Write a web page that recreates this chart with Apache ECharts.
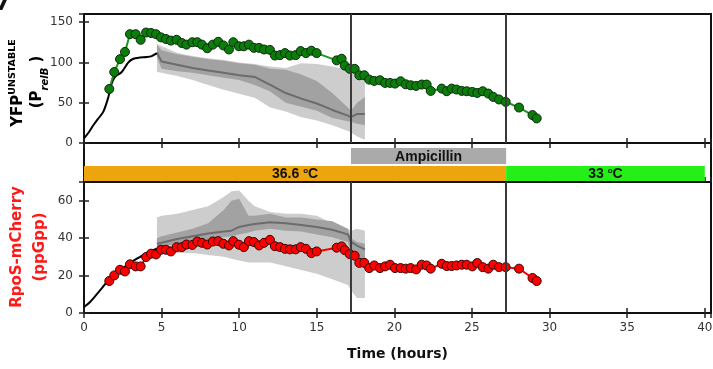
<!DOCTYPE html>
<html><head><meta charset="utf-8">
<script src="https://cdn.jsdelivr.net/npm/echarts@6/dist/echarts.min.js"></script>
<style>html,body{margin:0;padding:0;background:#fff}#c{width:713px;height:369px}</style>
</head><body><div id="c"></div>
<script>
// ---- data ----
const dotTime = [1.63,1.95,2.32,2.64,2.96,3.33,3.65,4.0,4.32,4.64,4.96,5.28,5.6,5.97,6.3,6.6,6.98,7.3,7.6,7.94,8.3,8.65,8.98,9.34,9.62,9.98,10.3,10.63,10.95,11.28,11.6,11.98,12.3,12.63,12.95,13.27,13.64,13.96,14.3,14.65,14.99,16.28,16.6,16.8,17.12,17.44,17.74,18.06,18.38,18.7,19.07,19.4,19.72,20.04,20.4,20.73,21.05,21.4,21.76,22.08,22.34,23.05,23.37,23.69,24.0,24.34,24.66,25.02,25.34,25.69,26.05,26.37,26.74,27.17,28.03,28.9,29.17];
const yfpValues = [67,88,104,113,135,135,128,137,136.5,135,131,129,127,128,124,122,125,125,122,117.5,122,125.5,121,116,125,120,120,122,118,118,116,115.5,108.5,109,111.5,108.5,109,114,111.5,114.5,111.5,102.5,104.5,96,92,92,84,84,78.6,77,77.8,74.5,74.5,73.7,76.5,72.8,71.6,70.8,72.5,72.5,64.6,67.5,64.2,67.5,66.3,64.6,64.2,63.3,62.1,64.2,61.3,57.2,54,51,44,34.6,30.5];
const rposValues = [17.1,20.1,23.1,22.2,26,24.9,24.9,29.9,31.7,31.3,33.8,33.8,32.9,35.2,35.2,36.6,36.4,38.2,37.5,36.6,38.2,38.4,37,36.1,38.4,36.5,35.2,38.4,37.9,36.1,37.5,39.1,35.7,35.2,34.3,34,34,35.2,34.3,32,32.9,34.9,35.6,33.6,31.5,30.6,26.8,26.8,24,25.4,24,24.9,25.8,24,24,23.7,24,23.3,25.8,25.4,23.7,26.3,25.1,25.1,25.4,25.8,25.8,24.9,26.7,24.5,23.7,25.8,24.5,24.5,23.7,18.7,17.1];

const modelTopX = [0,0.3,0.6,0.9,1.24,1.57,1.78,2.0,2.43,2.86,3.18,3.6,4.04,4.36,4.7];
const modelTopY = [5.8,13,22,30,38.6,57,73.7,82,88,100,104.5,106,106.6,107.8,111.5];
const modelBotX = [0,0.39,1.03,1.57,2.32,2.96,3.6,4.25,4.7];
const modelBotY = [3.2,5.9,12.1,17.4,22.8,26.7,29.9,32.9,34.3];

const bandTopX     = [4.7,5,6,7,8,9,10,11,12,13,14,15,16,17,17.2,17.6,18.1];
const bandTopMean  = [112,101,97,93,90,87,84,82,72,62,55,49,41,34,32,36,36];
const bandTopInHi  = [122,115,110,107,104,102,99,97,92,91,85,77,62,44,40,50,57];
const bandTopInLo  = [106,92,89,87,84,81,78,72,64,50,45,40,31,27,26,24,22];
const bandTopOutHi = [123,120,112,108,105,103,100,98,95,93,99,98,95,91,90,88,86];
const bandTopOutLo = [88,87,83,78,72,66,61,56,44,39,32,28,22,15,13,8,4];

const bandBotX     = [4.7,5,6,7,8,9,9.5,10,10.6,11,12,13,14,15,16,17,17.2,17.6,18.1];
const bandBotMean  = [37,37.5,39.5,41,42.5,43.5,44,46,47,47.5,48.5,48,47,46,44.5,42,38,36,34];
const bandBotInHi  = [40,41,43,45,48,55,60,61,52,52,53,51,51,50,49,45,40,38,37];
const bandBotInLo  = [35,35.5,37,38.5,39.5,40.5,41,42,43,44,45,44,43.5,42,40.5,38,32,28,26];
const bandBotOutHi = [51,52,53,55,57,62,65,65.5,60,57,54,53,53,52,48,45,44,45,44];
const bandBotOutLo = [32,32,32,32,31,30,29,28,27,27,27,25,23,21,18,15,12,8,8];

const eventTimes = [17.2, 27.2];
const phaseNames = ['Ampicillin', '36.6 {o|o}C', '33 {o|o}C'];
const phaseStart = [17.2, 0, 27.2];
const phaseEnd   = [27.2, 27.2, 40];
const phaseRow   = [1, 0, 0];
const phaseColor = ['#aaaaaa', '#eca50d', '#26ee18'];

// ---- helpers ----
const zip = (a, b) => a.map((v, i) => [v, b[i]]);
function bandSeries(xi, yi, xs, lo, hi, color) {
  return {
    type: 'custom', xAxisIndex: xi, yAxisIndex: yi, silent: true, clip: true, z: 1,
    data: [[xs[0], lo[0]]],
    renderItem: function (params, api) {
      const pts = [];
      for (let i = 0; i < xs.length; i++) pts.push(api.coord([xs[i], hi[i]]));
      for (let i = xs.length - 1; i >= 0; i--) pts.push(api.coord([xs[i], lo[i]]));
      return { type: 'polygon', shape: { points: pts }, style: { fill: color } };
    }
  };
}
const GREEN = '#1a9a1a', RED = '#ff1a1a';
const tickStyle = { show: true, inside: true, length: 5, lineStyle: { color: '#222', width: 1.5 } };
const lblStyle = { color: '#333', fontSize: 12, fontFamily: 'DejaVu Sans' };
const XMAX = 40.4;
function xAx(grid, pos, labels) {
  return { type: 'value', gridIndex: grid, position: pos, min: 0, max: XMAX, interval: 5,
    axisLine: { show: false }, axisTick: tickStyle, splitLine: { show: false },
    axisLabel: labels ? Object.assign({ show: true, margin: 9, showMaxLabel: false }, lblStyle) : { show: false } };
}
function yAx(grid, pos, max, interval, labels) {
  return { type: 'value', gridIndex: grid, position: pos, min: 0, max: max, interval: interval,
    axisLine: { show: false }, axisTick: tickStyle, splitLine: { show: false },
    axisLabel: labels ? Object.assign({ show: true, margin: 11, showMaxLabel: false }, lblStyle) : { show: false } };
}
const vLines = {
  silent: true, symbol: ['none', 'none'], label: { show: false },
  lineStyle: { color: '#3a3a3a', width: 2, type: 'solid' },
  data: eventTimes.map(t => ({ xAxis: t }))
};

const chart = echarts.init(document.getElementById('c'), null, { renderer: 'canvas' });
const gridBox = { show: true, borderColor: '#111', borderWidth: 2, backgroundColor: 'transparent',
  containLabel: false, outerBoundsMode: 'none' };
chart.setOption({
  animation: false,
  grid: [
    Object.assign({ left: 84, top: 14, width: 627, height: 129 }, gridBox),
    Object.assign({ left: 84, top: 143, width: 627, height: 39 }, gridBox),
    Object.assign({ left: 84, top: 182, width: 627, height: 131 }, gridBox)
  ],
  xAxis: [
    xAx(0, 'bottom', false), xAx(0, 'top', false),
    xAx(1, 'bottom', false), xAx(1, 'top', false),
    Object.assign(xAx(2, 'bottom', true), { name: 'Time (hours)', nameLocation: 'middle', nameGap: 34,
      nameTextStyle: { fontSize: 14, fontWeight: 'bold', color: '#111', fontFamily: 'DejaVu Sans' } }),
    xAx(2, 'top', false)
  ],
  yAxis: [
    yAx(0, 'left', 160, 50, true), yAx(0, 'right', 160, 50, false),
    { type: 'value', gridIndex: 1, min: 0, max: 1, show: false },
    yAx(2, 'left', 70, 20, true), yAx(2, 'right', 70, 20, false)
  ],
  graphic: [
    { type: 'text', left: -5, top: -7, style: { text: '7', font: 'bold 22px "DejaVu Sans"', fill: '#111' } },
    { type: 'text', x: 17, y: 83, rotation: Math.PI / 2,
      style: { text: '{a|YFP}{s|UNSTABLE}', align: 'center', verticalAlign: 'middle',
        rich: { a: { fontSize: 15, fontWeight: 'bold', color: GREEN, fontFamily: 'DejaVu Sans', lineHeight: 18, verticalAlign: 'bottom' },
                s: { fontSize: 9.5, fontWeight: 'bold', color: GREEN, fontFamily: 'DejaVu Sans', lineHeight: 18, verticalAlign: 'top' } } } },
    { type: 'text', x: 40, y: 82, rotation: Math.PI / 2,
      style: { text: '{a|(P}{b|relB}{a| )}', align: 'center', verticalAlign: 'middle',
        rich: { a: { fontSize: 15, fontWeight: 'bold', color: GREEN, fontFamily: 'DejaVu Sans', lineHeight: 20, verticalAlign: 'top' },
                b: { fontSize: 10, fontWeight: 'bold', fontStyle: 'italic', color: GREEN, fontFamily: 'DejaVu Sans', lineHeight: 20, verticalAlign: 'bottom' } } } },
    { type: 'text', x: 17, y: 247, rotation: Math.PI / 2,
      style: { text: 'RpoS-mCherry', align: 'center', verticalAlign: 'middle', fill: RED, font: 'bold 15px "DejaVu Sans"' } },
    { type: 'text', x: 40, y: 247, rotation: Math.PI / 2,
      style: { text: '(ppGpp)', align: 'center', verticalAlign: 'middle', fill: RED, font: 'bold 15px "DejaVu Sans"' } }
  ],
  series: [
    bandSeries(0, 0, bandTopX, bandTopOutLo, bandTopOutHi, '#cdcdcd'),
    bandSeries(0, 0, bandTopX, bandTopInLo, bandTopInHi, '#a2a2a2'),
    { type: 'line', xAxisIndex: 0, yAxisIndex: 0, data: zip(bandTopX, bandTopMean), symbol: 'none', z: 2,
      lineStyle: { color: '#6c6c6c', width: 2 } },
    { type: 'line', xAxisIndex: 0, yAxisIndex: 0, data: zip(modelTopX, modelTopY), symbol: 'none', smooth: 0.3, z: 3,
      lineStyle: { color: '#000', width: 2 } },
    { type: 'line', xAxisIndex: 0, yAxisIndex: 0, data: zip(dotTime, yfpValues), z: 4,
      symbol: 'circle', symbolSize: 9,
      itemStyle: { color: '#0b7d0b', borderColor: '#0a2a0a', borderWidth: 1 },
      lineStyle: { color: GREEN, width: 2 }, markLine: vLines },

    { type: 'custom', xAxisIndex: 2, yAxisIndex: 2, silent: true,
      data: phaseNames.map((n, i) => [phaseStart[i], phaseEnd[i], phaseRow[i], i]),
      renderItem: function (params, api) {
        const row = api.value(2), idx = api.value(3);
        const y0 = row === 1 ? 0.46 : 0.026, y1 = row === 1 ? 0.87 : 0.41;
        const p0 = api.coord([api.value(0), y1]);
        const p1 = api.coord([api.value(1), y0]);
        return { type: 'group', children: [
          { type: 'rect', shape: { x: p0[0], y: p0[1], width: p1[0] - p0[0], height: p1[1] - p0[1] },
            style: { fill: phaseColor[idx] } },
          { type: 'text', x: (p0[0] + p1[0]) / 2, y: (p0[1] + p1[1]) / 2 + 1,
            style: { text: phaseNames[idx], align: 'center', verticalAlign: 'middle',
              fill: '#111', font: 'bold 14px "Liberation Sans"',
              rich: { o: { fontSize: 8, fontWeight: 'bold', fontFamily: 'Liberation Sans', verticalAlign: 'top', lineHeight: 16, color: '#111' } } } }
        ] };
      } },

    bandSeries(4, 3, bandBotX, bandBotOutLo, bandBotOutHi, '#cdcdcd'),
    bandSeries(4, 3, bandBotX, bandBotInLo, bandBotInHi, '#a2a2a2'),
    { type: 'line', xAxisIndex: 4, yAxisIndex: 3, data: zip(bandBotX, bandBotMean), symbol: 'none', z: 2,
      lineStyle: { color: '#6c6c6c', width: 2 } },
    { type: 'line', xAxisIndex: 4, yAxisIndex: 3, data: zip(modelBotX, modelBotY), symbol: 'none', smooth: 0.3, z: 3,
      lineStyle: { color: '#000', width: 2 } },
    { type: 'line', xAxisIndex: 4, yAxisIndex: 3, data: zip(dotTime, rposValues), z: 4,
      symbol: 'circle', symbolSize: 9,
      itemStyle: { color: '#ff0000', borderColor: '#3a0000', borderWidth: 1 },
      lineStyle: { color: '#ff0000', width: 2 }, markLine: vLines }
  ]
});
</script></body></html>
